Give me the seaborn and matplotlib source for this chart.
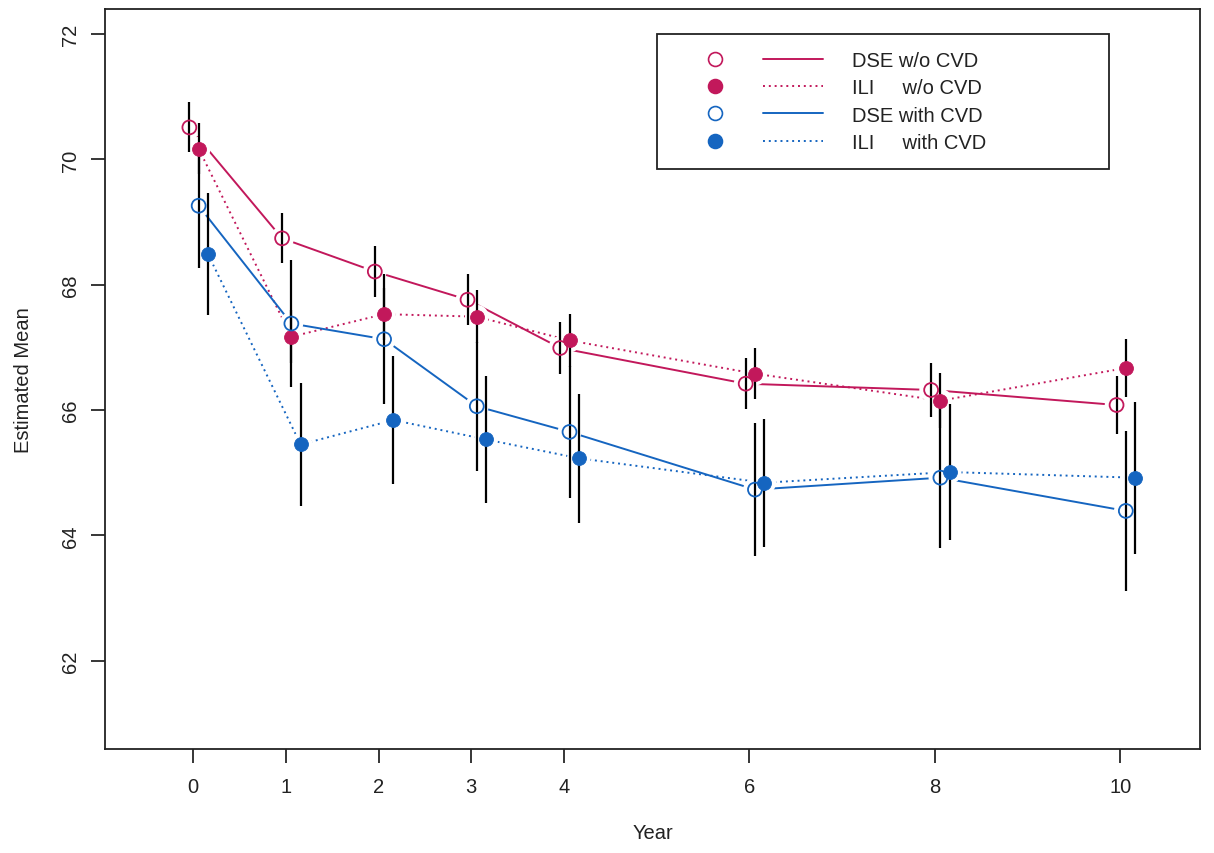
import numpy as np
import pandas as pd
import matplotlib
matplotlib.use("Agg")
import matplotlib.pyplot as plt
import seaborn as sns
from matplotlib.lines import Line2D
from matplotlib.legend_handler import HandlerTuple
from matplotlib.patches import Rectangle

# ---------------- data ----------------
years = [0, 1, 2, 3, 4, 6, 8, 10]
x_tick_labels = ["0", "1", "2", "3", "4", "6", "8", "10"]
y_ticks = [62, 64, 66, 68, 70, 72]

series_labels = ["DSE w/o CVD", "ILI     w/o CVD", "DSE with CVD", "ILI     with CVD"]

dse_wo_mean = [70.51, 68.74, 68.21, 67.76, 66.99, 66.42, 66.32, 66.08]
dse_wo_se = [0.40, 0.40, 0.41, 0.41, 0.41, 0.41, 0.43, 0.46]

ili_wo_mean = [70.17, 67.17, 67.53, 67.49, 67.11, 66.58, 66.15, 66.67]
ili_wo_se = [0.41, 0.42, 0.42, 0.42, 0.42, 0.41, 0.44, 0.46]

dse_w_mean = [69.26, 67.38, 67.13, 66.06, 65.65, 64.73, 64.92, 64.39]
dse_w_se = [1.00, 1.01, 1.04, 1.03, 1.05, 1.06, 1.12, 1.28]

ili_w_mean = [68.49, 65.45, 65.84, 65.53, 65.23, 64.84, 65.01, 64.92]
ili_w_se = [0.98, 0.98, 1.02, 1.02, 1.03, 1.02, 1.08, 1.21]

means = [dse_wo_mean, ili_wo_mean, dse_w_mean, ili_w_mean]
ses = [dse_wo_se, ili_wo_se, dse_w_se, ili_w_se]

# ---------------- styles ----------------
CRIMSON = "#C2185B"
BLUE = "#1565C0"
DOT = (0, (1, 2))
styles = [
    dict(color=CRIMSON, filled=False, ls="-", offset=-0.04),
    dict(color=CRIMSON, filled=True, ls=DOT, offset=0.06),
    dict(color=BLUE, filled=False, ls="-", offset=0.06),
    dict(color=BLUE, filled=True, ls=DOT, offset=0.16),
]

sns.set_theme(style="ticks")
plt.rcParams["font.family"] = ["Liberation Sans", "DejaVu Sans"]
FS = 14.5

W, H = 1214, 854
fig = plt.figure(figsize=(W / 100, H / 100), dpi=100)
fig.patch.set_facecolor("white")
ax = fig.add_axes([105 / W, 1 - 750 / H, 1095 / W, 740 / H])
ax.set_facecolor("white")

for lab, m, se, st in zip(series_labels, means, ses, styles):
    df = pd.DataFrame({"x": np.array(years, dtype=float) + st["offset"], "y": m, "se": se})
    sns.lineplot(data=df, x="x", y="y", ax=ax, color=st["color"], linestyle=st["ls"],
                 linewidth=1.4, estimator=None, sort=False, zorder=2, legend=False)
    # white halo -> gap between line and point (R type="b")
    ax.scatter(df["x"], df["y"], s=290, color="white", edgecolors="none", zorder=2.5)
    ax.errorbar(df["x"], df["y"], yerr=df["se"], fmt="none", ecolor="black",
                elinewidth=1.6, capsize=0, zorder=3)
    if st["filled"]:
        ax.scatter(df["x"], df["y"], s=100, color=st["color"], edgecolors=st["color"],
                   linewidths=0.6, zorder=4)
    else:
        ax.scatter(df["x"], df["y"], s=100, facecolors="none", edgecolors=st["color"],
                   linewidths=1.3, zorder=4)

ax.set_xlim(-0.95, 10.86)
ax.set_ylim(60.59, 72.40)
ax.set_xticks(years)
ax.set_xticklabels(x_tick_labels)
ax.set_yticks(y_ticks)
ax.set_yticklabels([str(v) for v in y_ticks], rotation=90, va="center")
ax.tick_params(axis="both", direction="out", length=10, width=1.1, colors="black",
               labelsize=FS, labelcolor="#222222")
ax.tick_params(axis="x", pad=10)
ax.tick_params(axis="y", pad=8)
for sp in ax.spines.values():
    sp.set_visible(True)
    sp.set_color("#222222")
    sp.set_linewidth(1.3)
ax.grid(False)

ax.set_xlabel("Year", fontsize=FS, color="#222222")
ax.set_ylabel("Estimated Mean", fontsize=FS, color="#222222")
ax.xaxis.set_label_coords(0.5, -0.100)
ax.yaxis.set_label_coords(-0.066, 0.5)

# ---------------- legend ----------------
box = Rectangle((657 / W, 1 - 169.5 / H), 452 / W, 134.5 / H, transform=fig.transFigure,
                facecolor="white", edgecolor="#222222", linewidth=1.3, zorder=5, clip_on=False)
ax.add_patch(box)

handles = []
for st in styles:
    mk = Line2D([], [], marker="o", linestyle="none", markersize=10,
                markerfacecolor=st["color"] if st["filled"] else "none",
                markeredgecolor=st["color"], markeredgewidth=1.2)
    ln = Line2D([], [], color=st["color"], linestyle=st["ls"], linewidth=1.4)
    handles.append((mk, ln))

leg = ax.legend(handles, series_labels, handler_map={tuple: HandlerTuple(ndivide=None, pad=0.9)},
                loc="center left", bbox_to_anchor=(685 / W, 1 - 102.5 / H),
                bbox_transform=fig.transFigure, frameon=False, fontsize=FS,
                handlelength=6.85, handletextpad=1.44, labelspacing=0.40,
                borderpad=0, borderaxespad=0)
leg.set_zorder(6)
for t in leg.get_texts():
    t.set_color("#222222")

fig.savefig("out.png", dpi=100, facecolor="white")
